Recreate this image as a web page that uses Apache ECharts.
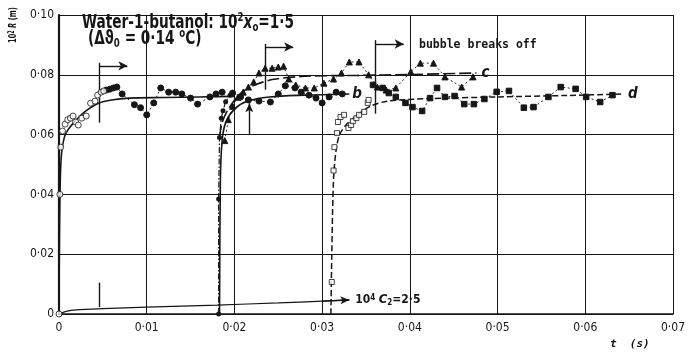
<!DOCTYPE html>
<html>
<head>
<meta charset="utf-8">
<script src="https://cdn.jsdelivr.net/npm/echarts@6/dist/echarts.min.js"></script>
<style>html,body{margin:0;padding:0;background:#fff}#chart{width:688px;height:352px}</style>
</head>
<body>
<div id="chart"></div>
<script>
// tick labels
const xTickLabels = ['0', '0·01', '0·02', '0·03', '0·04', '0·05', '0·06', '0·07']
const yTickLabels = ['0', '0·02', '0·04', '0·06', '0·08', '0·10']

// bubble a (starts at t = 0)
const aOpen = [[0,0],[0.0001,0.04],[0.0002,0.0558],[0.0004,0.0612],[0.0007,0.0635],[0.001,0.065],[0.0013,0.0655],[0.0016,0.0662],[0.0019,0.0642],[0.0022,0.0632],[0.0026,0.0655],[0.0031,0.0662],[0.0036,0.0705],[0.0041,0.0712],[0.0044,0.0732],[0.0048,0.0742],[0.0051,0.0746]]
const aFill = [[0.0054,0.0749],[0.0058,0.0752],[0.0062,0.0756],[0.0066,0.0759],[0.0072,0.0736],[0.0086,0.07],[0.0093,0.069],[0.01,0.0666],[0.0108,0.0706],[0.0116,0.0756],[0.0125,0.0742],[0.0133,0.0742],[0.014,0.0736],[0.015,0.0722],[0.0158,0.0702],[0.0172,0.0726],[0.0179,0.0736],[0.0186,0.0742]]
const aFit = [[0,0],[0.00005,0.025],[0.00015,0.045],[0.0003,0.054],[0.0006,0.059],[0.001,0.0615],[0.002,0.065],[0.003,0.0678],[0.0045,0.0705],[0.006,0.0716],[0.008,0.0722],[0.012,0.0724],[0.016,0.0726],[0.02,0.0728]]

// bubble b
const bRise = [[0.0182,0],[0.0182,0.0385],[0.0183,0.059],[0.0185,0.0655],[0.0187,0.068],[0.019,0.071],[0.0195,0.0732]]
const bFill = [[0.0198,0.0739],[0.0207,0.0726],[0.0216,0.0716],[0.0228,0.0712],[0.0241,0.0709],[0.025,0.0736],[0.0258,0.0763],[0.0269,0.0756],[0.0276,0.0742],[0.0285,0.0732],[0.0293,0.0722],[0.03,0.0706],[0.0308,0.0726],[0.0316,0.0742],[0.0323,0.0736]]
const bFit = [[0.0183,0],[0.0184,0.045],[0.0186,0.058],[0.019,0.064],[0.02,0.0685],[0.0215,0.0712],[0.024,0.0726],[0.028,0.0732],[0.0331,0.0736]]

// bubble c
const cTri = [[0.0189,0.058],[0.0193,0.065],[0.0198,0.0695],[0.0204,0.0725],[0.021,0.0742],[0.0216,0.0759],[0.0222,0.0776],[0.0228,0.0806],[0.0235,0.0822],[0.0243,0.0822],[0.025,0.0826],[0.0256,0.0829],[0.0262,0.0786],[0.027,0.0766],[0.0281,0.0756],[0.0291,0.0756],[0.0302,0.0772],[0.0313,0.0786],[0.0322,0.0806],[0.0331,0.0843],[0.0342,0.0843],[0.0353,0.08],[0.0363,0.0759],[0.0373,0.0749],[0.0384,0.0756],[0.0401,0.081],[0.0412,0.0839],[0.0427,0.0839],[0.044,0.0793],[0.0459,0.0759],[0.0472,0.0793]]
const cFit = [[0.0183,0.059],[0.0186,0.064],[0.0192,0.068],[0.02,0.0715],[0.021,0.0745],[0.0225,0.0768],[0.0245,0.0785],[0.028,0.0795],[0.034,0.0798],[0.04,0.0801],[0.0476,0.0806]]

// bubble d
const dOpen = [[0.0311,0.0107],[0.0313,0.048],[0.0314,0.0558],[0.0317,0.0605],[0.0318,0.0642],[0.0321,0.0659],[0.0325,0.0666],[0.033,0.0622],[0.0333,0.0632],[0.0335,0.0645],[0.0339,0.0655],[0.0342,0.0666],[0.0348,0.0676],[0.0352,0.0706],[0.0353,0.0716]]
const dFill = [[0.0358,0.0766],[0.0369,0.0756],[0.0376,0.0739],[0.0384,0.0726],[0.0395,0.0706],[0.0403,0.0692],[0.0414,0.0679],[0.0423,0.0722],[0.0431,0.0756],[0.044,0.0726],[0.0451,0.0729],[0.0462,0.0702],[0.0473,0.0702],[0.0485,0.0719],[0.0499,0.0743],[0.0513,0.0746],[0.053,0.069],[0.0541,0.0692],[0.0558,0.0726],[0.0572,0.0759],[0.0589,0.0753],[0.0601,0.0726],[0.0617,0.0709],[0.0631,0.0732]]
const dFit = [[0.031,0],[0.0311,0.02],[0.0313,0.045],[0.0316,0.055],[0.032,0.06],[0.0328,0.0635],[0.034,0.0665],[0.0355,0.0695],[0.0375,0.0712],[0.042,0.072],[0.05,0.0726],[0.058,0.0731],[0.0643,0.0736]]

// 10^4 C2 = 2.5
const c2Line = [[0,0],[0.0008,0.0009],[0.002,0.0014],[0.005,0.0018],[0.01,0.0023],[0.018,0.003],[0.025,0.0037],[0.03,0.0043],[0.0331,0.0047]]

// break-off markers
const breakOff = [0.0046, 0.0235, 0.0361]
const breakTop = [0.084, 0.0903, 0.0916]
const breakBottom = [0.064, 0.075, 0.067]
const arrowLevel = [0.083, 0.0893, 0.0903]
const arrowLength = 0.0032

const ink = '#161616'
const font = '"DejaVu Sans Condensed", "Liberation Sans Narrow", "Liberation Sans", sans-serif'

const chart = echarts.init(document.getElementById('chart'))

const breakLines = []
breakOff.forEach((t, i) => {
  breakLines.push([{ coord: [t, breakTop[i]], symbol: 'none' }, { coord: [t, breakBottom[i]], symbol: 'none' }])
  breakLines.push([{ coord: [t, arrowLevel[i]], symbol: 'none' }, { coord: [t + arrowLength, arrowLevel[i]], symbol: 'arrow', symbolSize: [7, 9] }])
})
// small tick on the C2 line and the upward arrow
breakLines.push([{ coord: [breakOff[0], c2Line[4][1]], symbol: 'none' }, { coord: [breakOff[0], 0.0105], symbol: 'none' }])
breakLines.push([{ coord: [0.0217, 0.0602], symbol: 'none' }, { coord: [0.0217, 0.0705], symbol: 'arrow', symbolSize: [6, 9] }])
// arrow at the end of the C2 line
const n = c2Line.length
breakLines.push([{ coord: c2Line[n - 2], symbol: 'none' }, { coord: c2Line[n - 1], symbol: 'arrow', symbolSize: [6, 9] }])

function dotted(name, data, symbol, size, fill) {
  return {
    name, type: 'line', data, symbol, symbolSize: size, showSymbol: true,
    lineStyle: { color: ink, width: 0.9, type: [2, 2.5] },
    itemStyle: { color: fill ? ink : '#fff', borderColor: ink, borderWidth: 1 },
    z: 4
  }
}

const titleRich = {
  t: { fontFamily: font, fontSize: 19, fill: ink, fontWeight: 'bold', lineHeight: 22 },
  ti: { fontFamily: font, fontSize: 19, fill: ink, fontStyle: 'italic', fontWeight: 'bold', lineHeight: 22 },
  sup: { fontFamily: font, fontSize: 12, fill: ink, fontWeight: 'bold', verticalAlign: 'top', lineHeight: 22 },
  sub: { fontFamily: font, fontSize: 12, fill: ink, fontWeight: 'bold', verticalAlign: 'bottom', lineHeight: 16 }
}

const option = {
  animation: false,
  backgroundColor: '#fff',
  grid: { left: 59, right: 7, top: 15, bottom: 38 },
  xAxis: {
    type: 'value', min: 0, max: 0.07, interval: 0.01,
    axisLine: { lineStyle: { color: ink, width: 1.6 } },
    axisTick: { show: false },
    splitLine: { lineStyle: { color: ink, width: 1 } },
    axisLabel: {
      color: ink, fontFamily: font, fontSize: 12, margin: 8,
      formatter: v => xTickLabels[Math.round(v / 0.01)]
    }
  },
  yAxis: {
    type: 'value', min: 0, max: 0.1, interval: 0.02,
    axisLine: { show: true, lineStyle: { color: ink, width: 2.2 } },
    axisTick: { show: false },
    splitLine: { lineStyle: { color: ink, width: 1 } },
    axisLabel: {
      color: ink, fontFamily: font, fontSize: 12, margin: 5,
      formatter: v => yTickLabels[Math.round(v / 0.02)]
    }
  },
  graphic: [
    {
      type: 'text', x: 82, y: 12, scaleX: 0.8, z: 10,
      style: { text: '{t|Water-1-butanol: 10}{sup|2}{ti|x}{sub|o}{t|=1·5}', rich: titleRich, verticalAlign: 'top' }
    },
    {
      type: 'text', x: 88, y: 28, scaleX: 0.8, z: 10,
      style: { text: '{t|(Δϑ}{sub|0}{t| = 0·14 }{sup|o}{t|C)}', rich: titleRich, verticalAlign: 'top' }
    },
    {
      type: 'text', x: 8, y: 43, rotation: Math.PI / 2, scaleX: 0.68,
      style: {
        text: '{t|10}{s|2}{i| R }{t|(m)}', verticalAlign: 'top',
        rich: {
          t: { fontFamily: font, fontSize: 11, fill: ink, fontWeight: 'bold' },
          i: { fontFamily: font, fontSize: 11, fill: ink, fontStyle: 'italic', fontWeight: 'bold' },
          s: { fontFamily: font, fontSize: 8, fill: ink, fontWeight: 'bold', verticalAlign: 'top' }
        }
      }
    },
    {
      type: 'text', left: 610, top: 339,
      style: { text: 't  (s)', fontFamily: '"DejaVu Sans Mono", monospace', fontSize: 11, fill: ink, fontWeight: 'bold', fontStyle: 'italic' }
    },
    {
      type: 'text', left: 419, top: 39,
      style: { text: 'bubble breaks off', fontFamily: '"DejaVu Sans Mono", monospace', fontSize: 11.5, fill: ink, fontWeight: 'bold' }
    }
  ],
  series: [
    {
      name: 'aFit', type: 'line', data: aFit, smooth: 0.3, symbol: 'none',
      lineStyle: { color: ink, width: 1.6 }, z: 3
    },
    {
      name: 'aOpen', type: 'scatter', data: aOpen, symbol: 'circle', symbolSize: 6,
      itemStyle: { color: '#fff', borderColor: ink, borderWidth: 1 }, z: 5
    },
    dotted('aFill', aFill, 'circle', 6, true),
    {
      name: 'bRise', type: 'line', data: bRise, symbol: 'circle', symbolSize: 5,
      lineStyle: { color: ink, width: 1.2, type: [6, 2, 1.5, 2] },
      itemStyle: { color: ink }, z: 4
    },
    dotted('bFill', bFill, 'circle', 6, true),
    {
      name: 'bFit', type: 'line', data: bFit, smooth: 0.3, symbol: 'none',
      lineStyle: { color: ink, width: 1.6 }, z: 3,
      endLabel: { show: true, formatter: 'b', color: ink, fontFamily: font, fontSize: 15, fontStyle: 'italic', fontWeight: 'bold', distance: 3 }
    },
    dotted('cTri', cTri, 'triangle', 6, true),
    {
      name: 'cFit', type: 'line', data: cFit, smooth: 0.3, symbol: 'none',
      lineStyle: { color: ink, width: 1.6, type: [12, 4] }, z: 3,
      endLabel: { show: true, formatter: 'c', color: ink, fontFamily: font, fontSize: 15, fontStyle: 'italic', fontWeight: 'bold', distance: 5 }
    },
    {
      name: 'dOpen', type: 'scatter', data: dOpen, symbol: 'rect', symbolSize: 5,
      itemStyle: { color: '#fff', borderColor: ink, borderWidth: 1 }, z: 5
    },
    dotted('dFill', dFill, 'rect', 5.5, true),
    {
      name: 'dFit', type: 'line', data: dFit, smooth: 0.3, symbol: 'none',
      lineStyle: { color: ink, width: 1.5, type: [6, 3] }, z: 3,
      endLabel: { show: true, formatter: 'd', color: ink, fontFamily: font, fontSize: 15, fontStyle: 'italic', fontWeight: 'bold', distance: 5 }
    },
    {
      name: 'C2', type: 'line', data: c2Line, smooth: 0.3, symbol: 'none',
      lineStyle: { color: ink, width: 1.2 }, z: 3,
      endLabel: {
        show: true, distance: 6,
        formatter: '{t|10}{s|4} {i|C}{b|2}{t|=2·5}',
        rich: {
          t: { fontFamily: font, fontSize: 12, color: ink, fontWeight: 'bold' },
          i: { fontFamily: font, fontSize: 13, color: ink, fontStyle: 'italic', fontWeight: 'bold' },
          s: { fontFamily: font, fontSize: 8, color: ink, fontWeight: 'bold', verticalAlign: 'top' },
          b: { fontFamily: font, fontSize: 8, color: ink, fontWeight: 'bold', verticalAlign: 'bottom' }
        }
      },
      markLine: {
        silent: true, animation: false, label: { show: false },
        lineStyle: { color: ink, width: 1.4, type: 'solid' },
        data: breakLines
      }
    }
  ]
}

chart.setOption(option)
</script>
</body>
</html>
